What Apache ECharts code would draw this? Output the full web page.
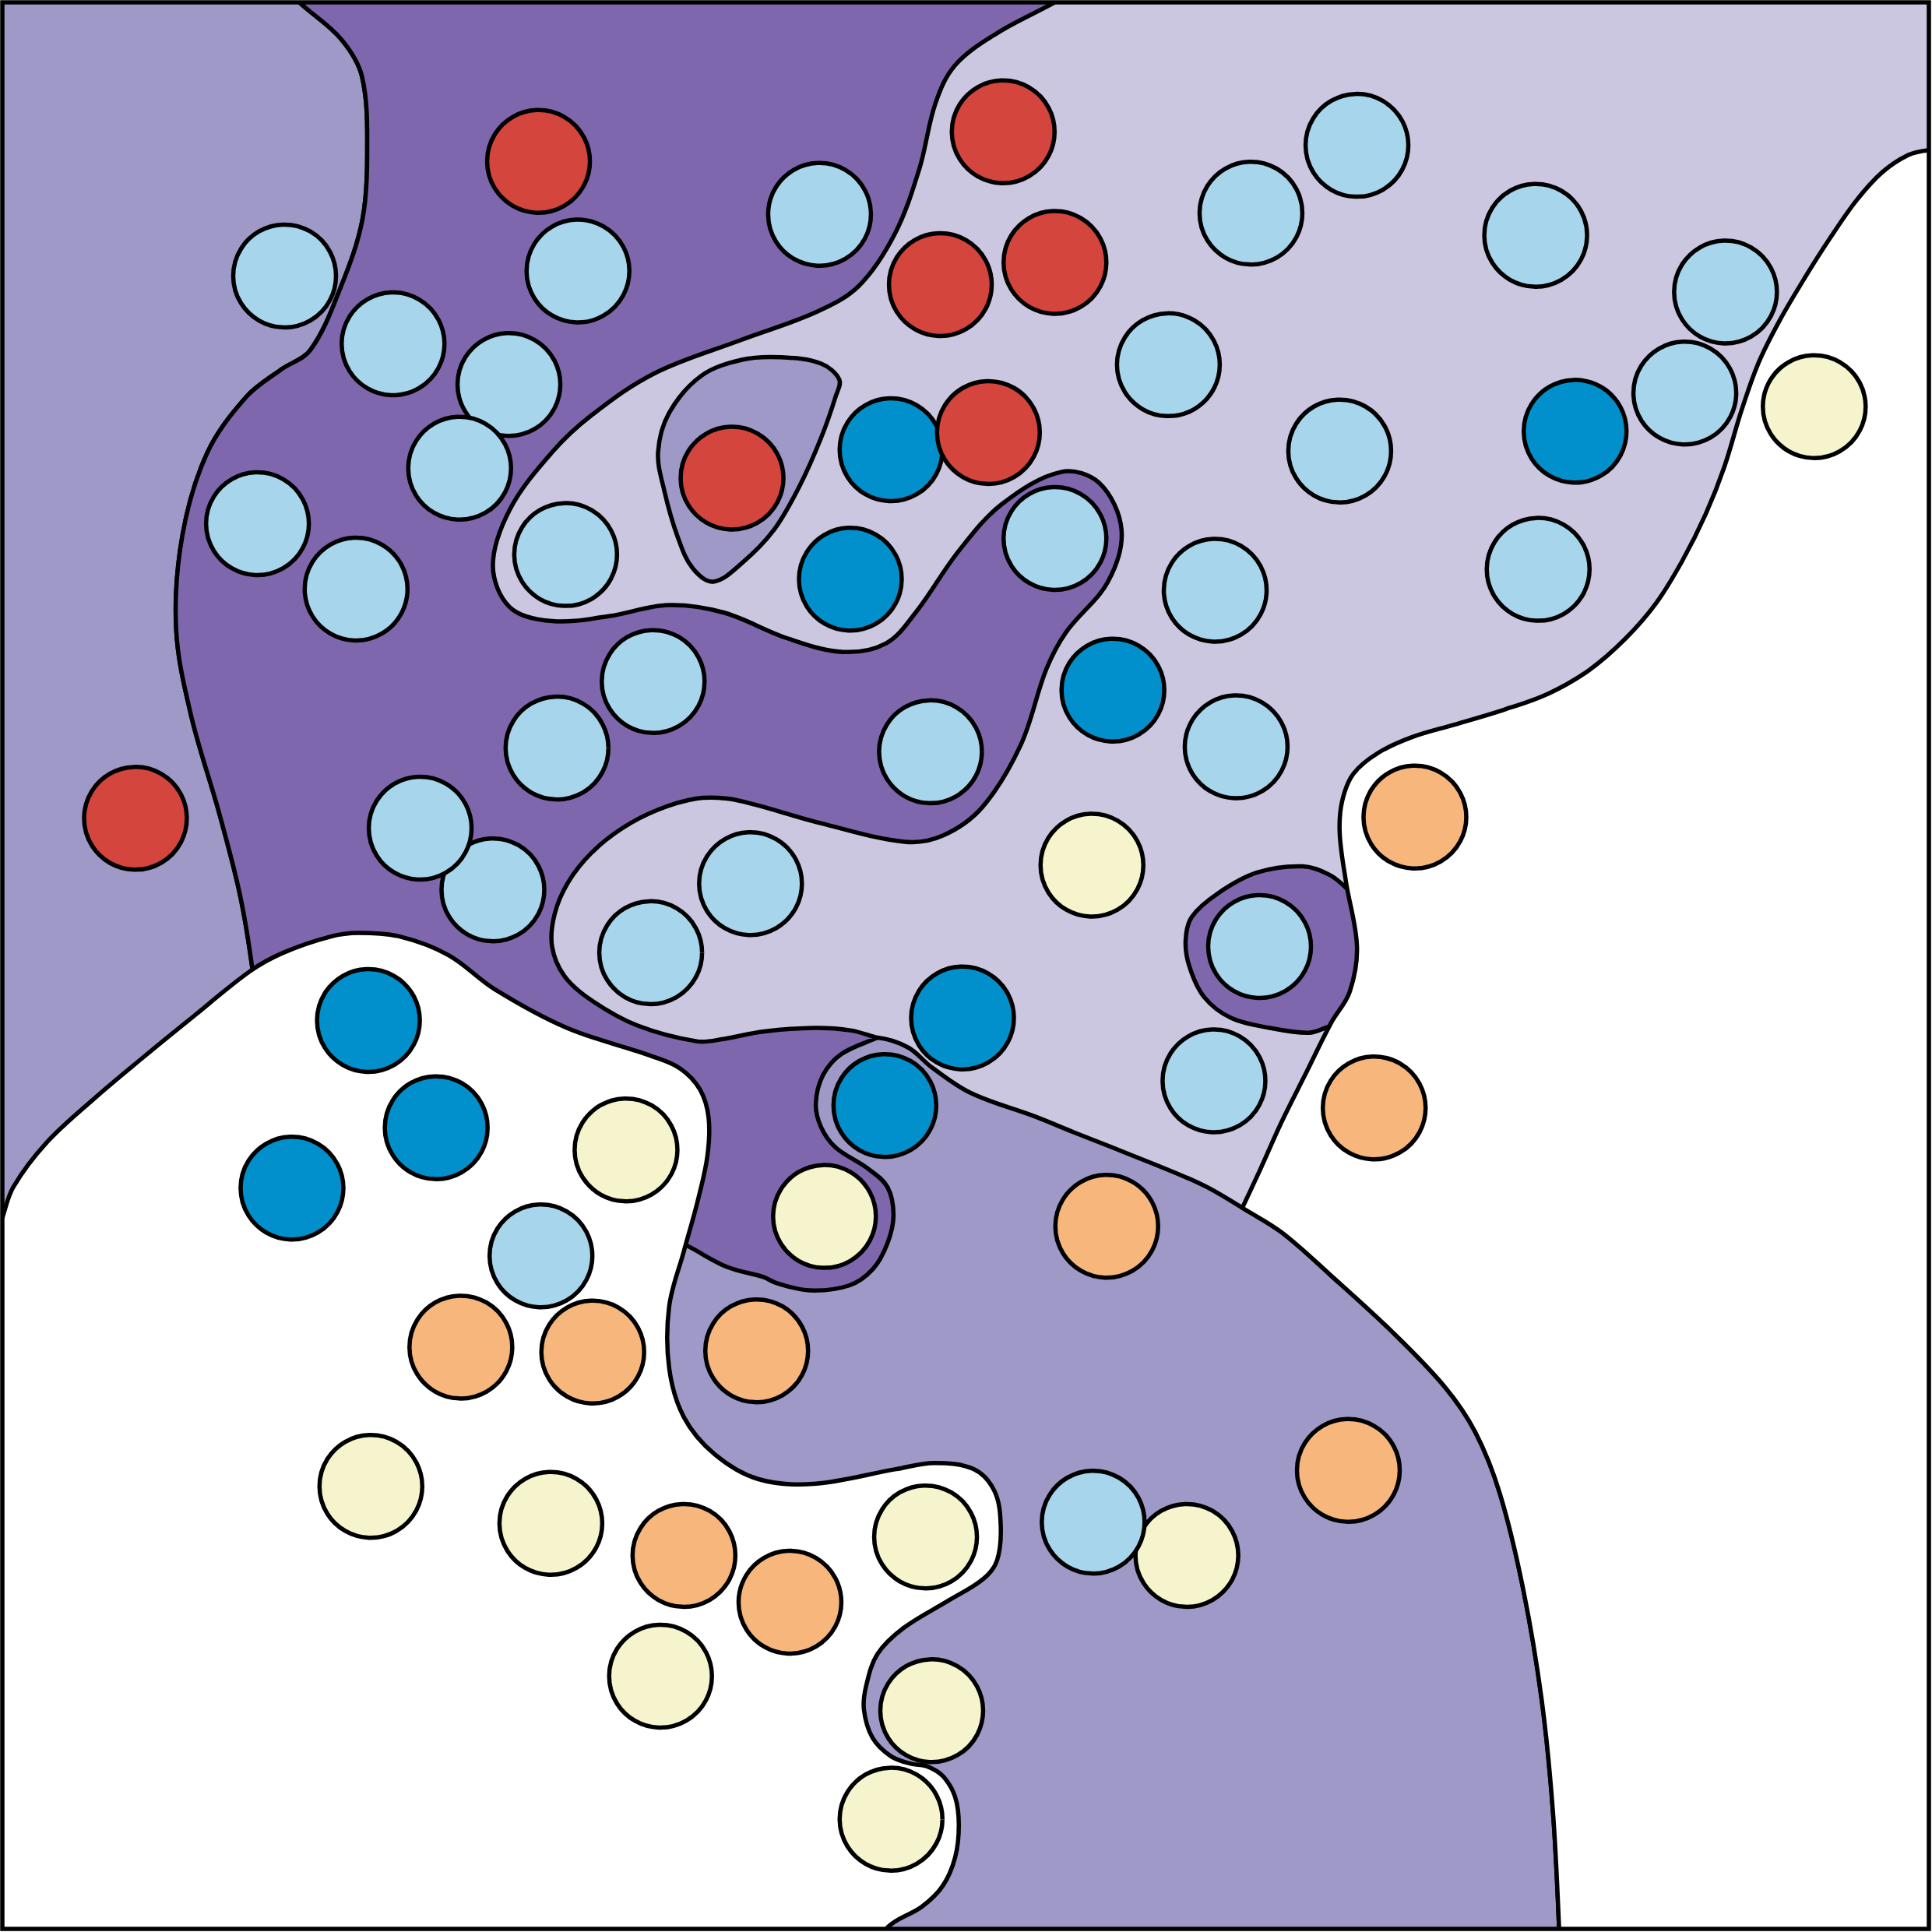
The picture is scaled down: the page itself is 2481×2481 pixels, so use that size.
<!DOCTYPE html>
<html>
<head>
<meta charset="utf-8">
<script src="https://cdn.jsdelivr.net/npm/echarts@6/dist/echarts.min.js"></script>
<style>
html, body { margin: 0; padding: 0; background: #fff; }
#chart { width: 2481px; height: 2481px; }
</style>
</head>
<body>
<div id="chart"></div>
<script>
// region outlines, in plot units (0..1568, y down)
var mediumLeft = [[-30,-30],[220,-20],[244,3],[277,32],[294,63],[298,126],[294,179],[277,232],[252,284],[228,300],[200,322],[168,368],[148,435],[143,510],[155,580],[178,660],[195,727],[205,787],[212,850],[100,960],[-30,1060]];

var mediumBottom = [[712,842],[737,850],[756,866],[788,887],[840,906],[872,919],[910,934],[975,961],[1008,980],[1040,1000],[1080,1035],[1130,1081],[1172,1125],[1197,1162],[1217,1212],[1236,1290],[1251,1380],[1260,1470],[1265,1565],[1266,1610],[600,1610],[530,1100],[545,960],[640,880],[700,846]];

var darkBand = [[220,-20],[244,3],[277,32],[294,63],[298,126],[294,179],[277,232],[252,284],[228,300],[200,322],[168,368],[148,435],[143,510],[155,580],[178,660],[195,727],[205,787],[212,850],
  [400,905],[530,996],
  [560,1012],[590,1028],[619,1036],[630,1041],[657,1047],[689,1043],[708,1030],[720,1009],[725,986],[720,963],[704,948],[678,931],[666,914],[662,895],[668,872],[683,855],[712,842],[712,842],
  [690,836],[661,834],[619,837],[587,843],[566,845],[517,832],[479,811],[458,792],[448,768],[450,742],[461,716],[480,692],[505,672],[534,657],[565,648],[590,648],[613,653],[666,668],[734,683],[765,678],[797,655],[828,605],[849,543],[865,513],
  [899,472],[910,430],[892,392],[861,383],[813,409],[778,447],[743,497],[719,522],[684,529],[639,518],[587,497],[542,491],[494,500],[448,504],[414,493],[400,459],[414,413],[448,367],[480,337],[531,303],[601,276],[663,253],[697,232],[726,190],[746,137],[759,84],[775,53],[809,27],[854,3],[895,-20]];

var darkIsland = [[962,763],[967,744],[988,725],[1020,708],[1057,703],[1079,710],[1095,723],[1112,740],[1120,790],[1100,826],[1078,833],[1062,838],[1030,834],[999,826],[977,809],[965,784]];

var mediumIsland = [[534,367],[543,335],[569,305],[602,292],[634,290],[666,295],[681,308],[678,322],[666,356],[649,394],[628,430],[602,457],[579,472],[562,461],[550,436],[539,398]];

var whiteLeft = [[-30,1050],[-5,1010],[2,988],[11,963],[38,927],[77,891],[115,859],[153,828],[203,788],[230,773],[268,760],[291,757],[325,760],[364,775],[402,803],[460,834],[529,857],[552,867],[568,884],[575,907],[574,938],[566,975],[555,1015],[543,1060],[543,1110],[555,1150],[580,1180],[615,1200],[660,1204],[727,1192],[758,1187],[790,1192],[807,1210],[812,1238],[809,1266],[798,1281],[769,1299],[733,1321],[712,1342],[703,1367],[701,1387],[708,1410],[723,1425],[739,1431],[752,1433],[765,1441],[775,1458],[778,1481],[775,1507],[765,1530],[748,1547],[720,1564],[690,1610],[-30,1610]];

var whiteRight = [[1610,100],[1590,121],[1564,122],[1548,126],[1527,140],[1506,163],[1485,193],[1464,226],[1444,260],[1427,294],[1413,333],[1399,379],[1384,417],[1365,455],[1344,489],[1319,518],[1289,544],[1256,563],[1220,576],[1180,588],[1146,598],[1118,611],[1098,628],[1089,650],[1087,676],[1092,715],[1101,768],[1095,805],[1080,830],[1059,872],[1040,910],[1022,950],[1008,980],[1008,980],[1040,1000],[1080,1035],[1130,1081],[1172,1125],[1197,1162],[1217,1212],[1236,1290],[1251,1380],[1260,1470],[1265,1565],[1266,1610],[1610,1610]];

// points by class
var redPts = [[437,131],[814,107],[763,231],[856,213],[802,351],[594,388],[110,664]];
var lightBluePts = [[231,224],[469,220],[319,279],[665,174],[413,312],[373,380],[209,425],[289,478],[459,450],[1015,173],[1101,118],[1246,191],[1400,237],[1367,319],[948,296],[1087,366],[1248,462],[856,437],[986,479],[530,553],[452,607],[755,610],[1003,606],[400,722],[341,672],[609,717],[528,773],[1022,768],[985,877],[439,1019],[887,1235]];
var darkBluePts = [[723,365],[690,470],[903,560],[1278,350],[781,826],[718,897],[299,828],[354,915],[237,964]];
var creamPts = [[1472,330],[886,702],[508,933],[669,987],[301,1206],[447,1236],[751,1247],[536,1360],[756,1388],[723,1476],[963,1262]];
var orangePts = [[1148,663],[1115,899],[898,995],[374,1093],[481,1097],[614,1096],[1094,1193],[555,1262],[641,1300]];

var DARK = '#7f67ad', MEDIUM = '#9f99c8', LIGHT = '#cbc7e1';

var myChart = echarts.init(document.getElementById('chart'), null, { renderer: 'svg' });

function regionSeries(pts, fill) {
	return {
		type: 'custom',
		coordinateSystem: 'cartesian2d',
		clip: true,
		silent: true,
		data: [[800, 800]],
		renderItem: function (params, api) {
			return {
				type: 'polygon',
				shape: {
					points: pts.map(function (p) { return api.coord(p); }),
					smooth: 0.35
				},
				style: { fill: fill, stroke: '#000', lineWidth: 5.5 }
			};
		}
	};
}

function dotSeries(pts, color) {
	return {
		type: 'scatter',
		data: pts,
		symbol: 'circle',
		symbolSize: 132,
		silent: true,
		itemStyle: {
			color: color,
			borderColor: '#000',
			borderWidth: 5.5,
			opacity: 1
		}
	};
}

option = {
	backgroundColor: '#fff',
	animation: false,
	grid: {
		left: 3,
		right: 4,
		top: 3,
		bottom: 4,
		show: true,
		backgroundColor: LIGHT,
		borderWidth: 0
	},
	xAxis: {
		type: 'value',
		min: 2,
		max: 1565,
		show: false
	},
	yAxis: {
		type: 'value',
		min: 2,
		max: 1565,
		inverse: true,
		show: false
	},
	series: [
		regionSeries(mediumLeft, MEDIUM),
		regionSeries(mediumBottom, MEDIUM),
		regionSeries(darkBand, DARK),
		regionSeries(darkIsland, DARK),
		regionSeries(mediumIsland, MEDIUM),
		regionSeries(whiteLeft, '#fff'),
		regionSeries(whiteRight, '#fff'),
		dotSeries(creamPts, '#f6f4cd'),
		dotSeries(orangePts, '#f7b77c'),
		dotSeries(darkBluePts, '#0190cb'),
		dotSeries(redPts, '#d3453d'),
		dotSeries(lightBluePts, '#a6d5ec'),
		{
			// frame
			type: 'custom',
			coordinateSystem: 'cartesian2d',
			silent: true,
			data: [[800, 800]],
			renderItem: function (params, api) {
				var a = api.coord([2, 2]);
				var b = api.coord([1565, 1565]);
				return {
					type: 'rect',
					shape: { x: a[0], y: a[1], width: b[0] - a[0], height: b[1] - a[1] },
					style: { fill: 'none', stroke: '#000', lineWidth: 5.5 }
				};
			}
		}
	]
};
myChart.setOption(option);
window.addEventListener("resize", function () {
  myChart.resize();
});
</script>
</body>
</html>
